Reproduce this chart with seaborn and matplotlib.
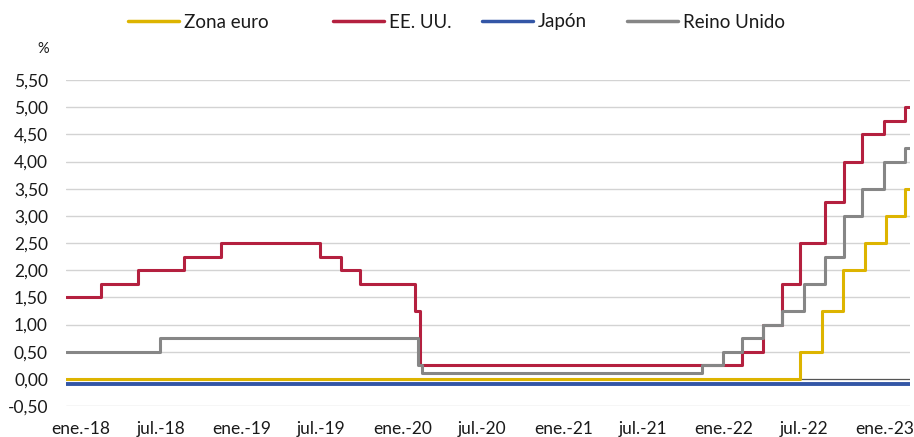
import matplotlib
matplotlib.use("Agg")
import matplotlib.pyplot as plt
import seaborn as sns
import pandas as pd
import numpy as np

# ---- data (policy rates, step changes) ----
end_date = "2023-04-03"

euro_dates = ["2018-01-01", "2022-07-27", "2022-09-14", "2022-11-02", "2022-12-21", "2023-02-08", "2023-03-22"]
euro_rates = [0.00, 0.50, 1.25, 2.00, 2.50, 3.00, 3.50]

us_dates = ["2018-01-01", "2018-03-22", "2018-06-14", "2018-09-27", "2018-12-20", "2019-08-01",
            "2019-09-19", "2019-10-31", "2020-03-04", "2020-03-16", "2022-03-17", "2022-05-05",
            "2022-06-16", "2022-07-28", "2022-09-22", "2022-11-03", "2022-12-15", "2023-02-02", "2023-03-23"]
us_rates = [1.50, 1.75, 2.00, 2.25, 2.50, 2.25, 2.00, 1.75, 1.25, 0.25, 0.50, 1.00,
            1.75, 2.50, 3.25, 4.00, 4.50, 4.75, 5.00]

jp_dates = ["2018-01-01"]
jp_rates = [-0.10]

uk_dates = ["2018-01-01", "2018-08-02", "2020-03-11", "2020-03-19", "2021-12-16", "2022-02-03",
            "2022-03-17", "2022-05-05", "2022-06-16", "2022-08-04", "2022-09-22", "2022-11-03",
            "2022-12-15", "2023-02-02", "2023-03-23"]
uk_rates = [0.50, 0.75, 0.25, 0.10, 0.25, 0.50, 0.75, 1.00, 1.25, 1.75, 2.25, 3.00, 3.50, 4.00, 4.25]

series_names = ["Zona euro", "EE. UU.", "Japón", "Reino Unido"]
series_colors = ["#DDB400", "#B4203F", "#3356A6", "#868686"]

tick_dates = ["2018-01-01", "2018-07-01", "2019-01-01", "2019-07-01", "2020-01-01", "2020-07-01",
              "2021-01-01", "2021-07-01", "2022-01-01", "2022-07-01", "2023-01-01"]
tick_labels = ["ene.-18", "jul.-18", "ene.-19", "jul.-19", "ene.-20", "jul.-20",
               "ene.-21", "jul.-21", "ene.-22", "jul.-22", "ene.-23"]
y_ticks = [-0.5, 0, 0.5, 1, 1.5, 2, 2.5, 3, 3.5, 4, 4.5, 5, 5.5]


def build(dates, rates):
    d = list(pd.to_datetime(dates)) + [pd.Timestamp(end_date)]
    r = list(rates) + [rates[-1]]
    return d, r


frames = []
for name, dts, rts in zip(series_names,
                          [euro_dates, us_dates, jp_dates, uk_dates],
                          [euro_rates, us_rates, jp_rates, uk_rates]):
    d, r = build(dts, rts)
    frames.append(pd.DataFrame({"fecha": d, "tipo": r, "serie": name}))
df = pd.concat(frames, ignore_index=True)

# ---- plot ----
sns.set_theme(style="white")
plt.rcParams["font.family"] = ["Lato", "DejaVu Sans"]

fig = plt.figure(figsize=(9.14, 4.37), dpi=100)
ax = fig.add_axes([66 / 914, 1 - 406 / 437, (910 - 66) / 914, (406 - 80) / 437])

for yv in y_ticks:
    if yv == 0:
        continue
    ax.axhline(yv, color="#D3D3D3", lw=1.0, zorder=0)
ax.axhline(0, color="#555555", lw=0.9, zorder=0.5)

lws = {"Zona euro": 2.2, "EE. UU.": 2.2, "Japón": 2.8, "Reino Unido": 2.2}
zs = {"Zona euro": 4, "EE. UU.": 2, "Japón": 5, "Reino Unido": 3}
pal = dict(zip(series_names, series_colors))
for name in series_names:
    sub = df[df["serie"] == name]
    sns.lineplot(data=sub, x="fecha", y="tipo", ax=ax, color=pal[name], lw=lws[name],
                 drawstyle="steps-post", zorder=zs[name], legend=False)

ax.set_xlim(pd.Timestamp("2018-01-01"), pd.Timestamp(end_date))
ax.set_ylim(-0.5, 5.5)
ax.set_yticks(y_ticks)
ax.set_yticklabels([f"{v:.2f}".replace(".", ",") for v in y_ticks], fontsize=12.5, color="#1a1a1a")
ax.set_xticks(pd.to_datetime(tick_dates) + pd.Timedelta(days=34))
ax.set_xticklabels(tick_labels, fontsize=12.5, color="#1a1a1a")
ax.tick_params(axis="x", length=0, pad=11)
ax.tick_params(axis="y", length=0, pad=13)
ax.set_xlabel("")
ax.set_ylabel("")
for s in ax.spines.values():
    s.set_visible(False)

fig.text(49 / 914, 1 - 49 / 437, "%", ha="right", va="center", fontsize=10.5, color="#1a1a1a")

legend_x = [128, 333, 482, 627]
for name, c, lx in zip(series_names, series_colors, legend_x):
    h = plt.Line2D([], [], color=c, lw=2.5)
    leg = fig.legend([h], [name], loc="center left", bbox_to_anchor=(lx / 914, 1 - 22 / 437),
                     frameon=False, fontsize=13.5, handlelength=2.7, handletextpad=0.3,
                     borderpad=0, borderaxespad=0)
    for t in leg.get_texts():
        t.set_color("#1a1a1a")

fig.savefig("out.png", dpi=100)
